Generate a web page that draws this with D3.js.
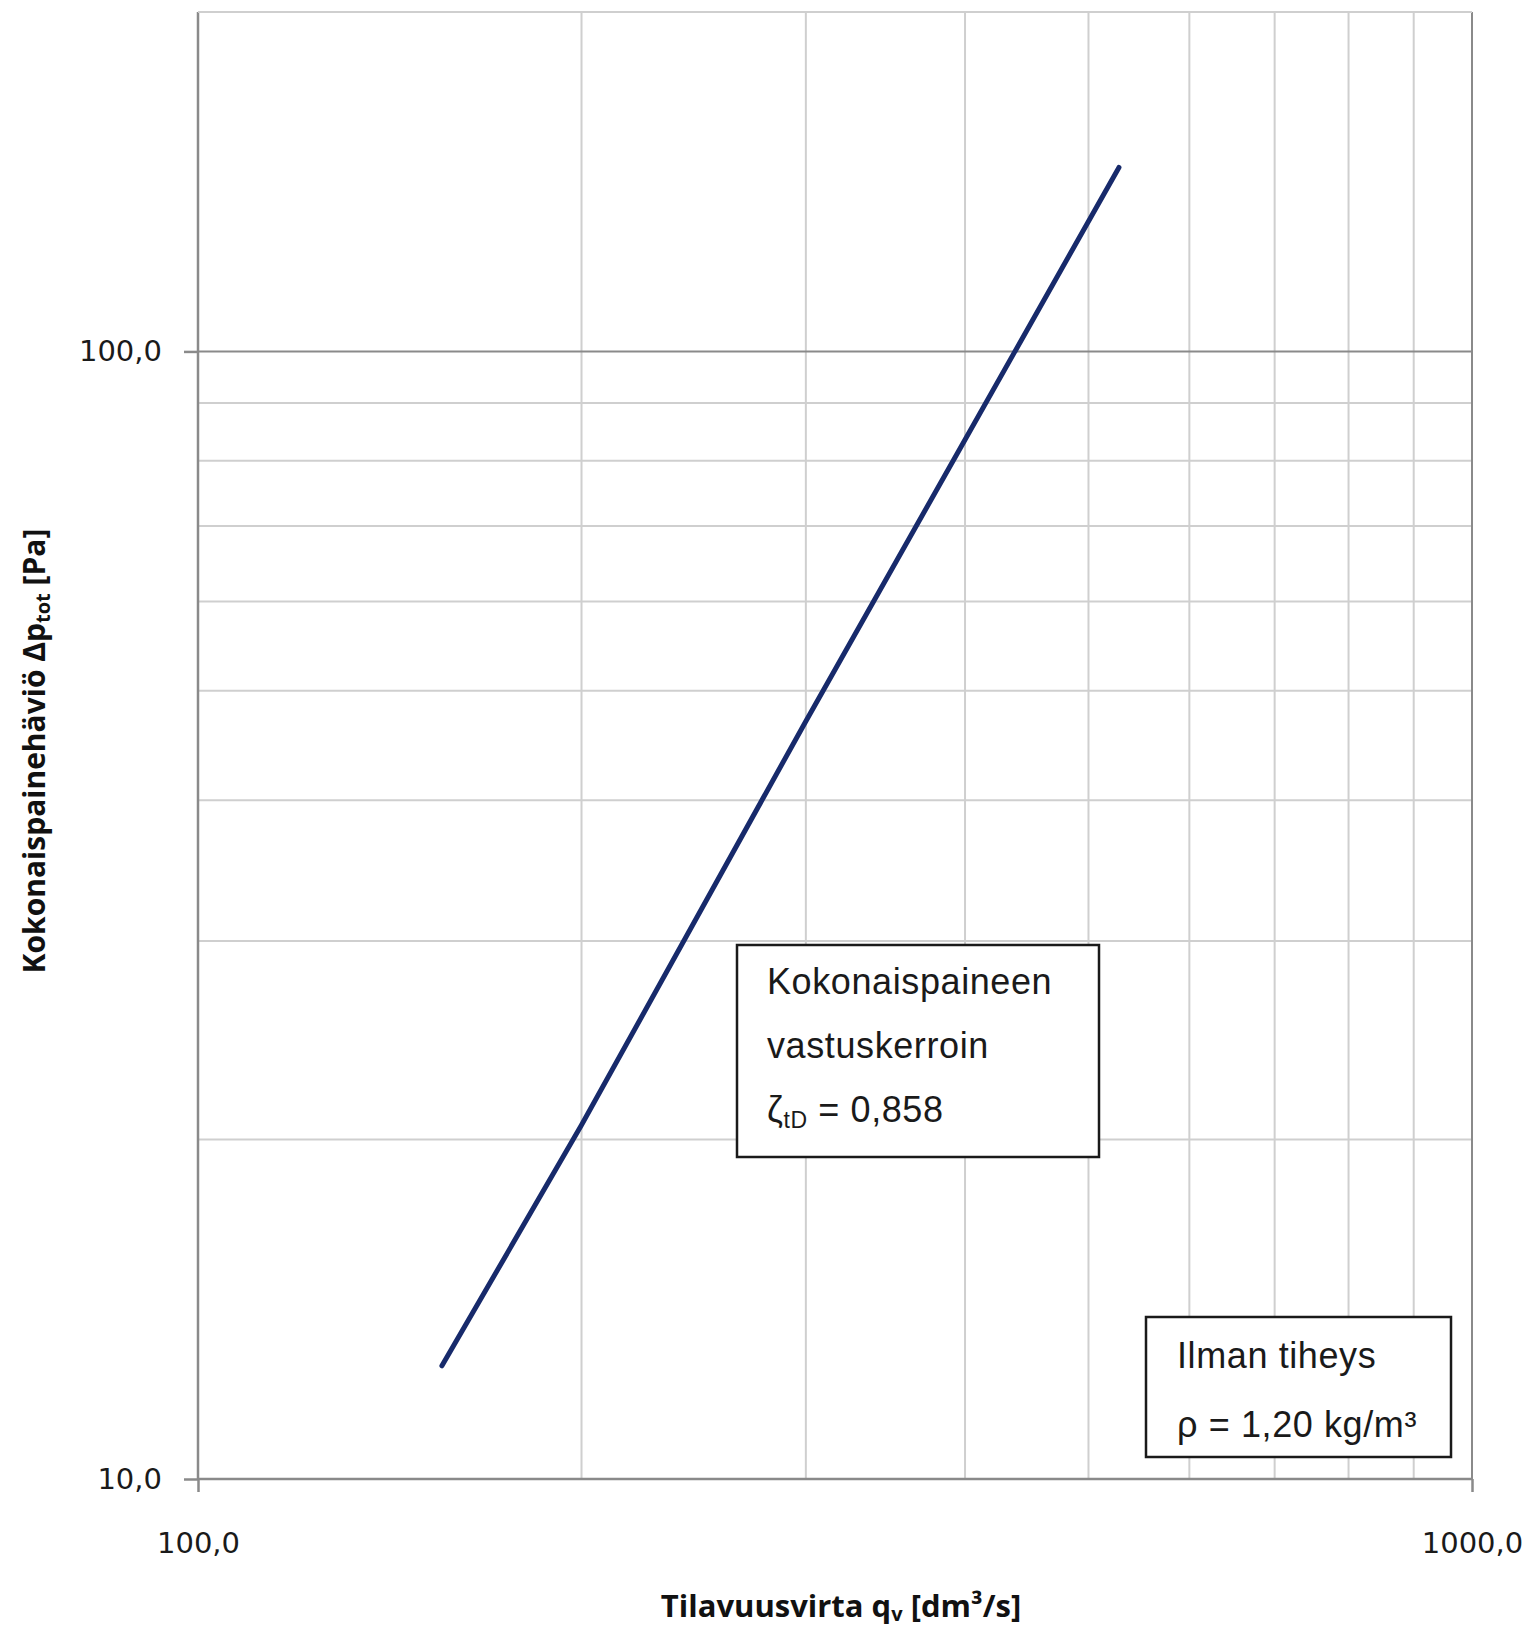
<!DOCTYPE html>
<html>
<head>
<meta charset="utf-8">
<script src="https://cdn.jsdelivr.net/npm/d3@7"></script>
<style>
  html, body { margin: 0; padding: 0; background: #fff; }
  svg { display: block; }
</style>
</head>
<body>
<svg id="chart" width="1539" height="1636"></svg>
<script>
// ---- data ----
const flowValues = [155.4, 200, 300, 400, 528.3];        // q_v [dm³/s]
const pressureValues = [12.6, 20.6, 47.0, 83.5, 145.6];  // Δp_tot [Pa]
const xTickValues = [100, 1000];
const xTickLabels = ["100,0", "1000,0"];
const yTickValues = [10, 100];
const yTickLabels = ["10,0", "100,0"];
const xGridValues = [200, 300, 400, 500, 600, 700, 800, 900];
const yGridValues = [20, 30, 40, 50, 60, 70, 80, 90, 100, 200];
const box1Lines = ["Kokonaispaineen", "vastuskerroin"];
const box2Lines = ["Ilman tiheys", "ρ = 1,20 kg/m³"];

// ---- layout ----
const plotLeft = 198, plotRight = 1472, plotTop = 12, plotBottom = 1479;
const svg = d3.select("#chart");

const x = d3.scaleLog().domain([100, 1000]).range([plotLeft, plotRight]);
const y = d3.scaleLog().domain([10, 200]).range([plotBottom, plotTop]);

const gridColor = "#cfcfcf";
const axisColor = "#8a8a8a";

// gridlines
svg.append("g").selectAll("line").data(xGridValues).join("line")
  .attr("x1", d => x(d)).attr("x2", d => x(d))
  .attr("y1", plotTop).attr("y2", plotBottom)
  .attr("stroke", gridColor).attr("stroke-width", 2);

svg.append("g").selectAll("line").data(yGridValues).join("line")
  .attr("x1", plotLeft).attr("x2", plotRight)
  .attr("y1", d => y(d)).attr("y2", d => y(d))
  .attr("stroke", d => d === 100 ? axisColor : gridColor).attr("stroke-width", 2);

// right border
svg.append("line").attr("x1", plotRight).attr("x2", plotRight).attr("y1", plotTop).attr("y2", plotBottom)
  .attr("stroke", axisColor).attr("stroke-width", 2);

// axes
const xAxis = d3.axisBottom(x).tickValues(xTickValues)
  .tickFormat((d, i) => xTickLabels[i]).tickSize(13).tickPadding(40);
const gx = svg.append("g").attr("transform", `translate(0,${plotBottom})`).call(xAxis);
const yAxis = d3.axisLeft(y).tickValues(yTickValues)
  .tickFormat((d, i) => yTickLabels[i]).tickSize(14).tickPadding(22);
const gy = svg.append("g").attr("transform", `translate(${plotLeft},0)`).call(yAxis);

[gx, gy].forEach(g => {
  g.select(".domain").attr("stroke", axisColor).attr("stroke-width", 2.5);
  g.selectAll(".tick line").attr("stroke", axisColor).attr("stroke-width", 2.5);
  g.selectAll(".tick text")
    .attr("font-family", "'DejaVu Sans', Verdana, sans-serif")
    .attr("font-size", 29).attr("fill", "#1a1a1a");
});
gy.select(".domain").attr("d", `M0,${plotTop}V${plotBottom}`);
gx.select(".domain").attr("d", `M${plotLeft},0H${plotRight}`);

// top border
svg.append("line").attr("x1", plotLeft).attr("x2", plotRight).attr("y1", plotTop).attr("y2", plotTop)
  .attr("stroke", gridColor).attr("stroke-width", 2);

// data line
const line = d3.line().x((d, i) => x(flowValues[i])).y(d => y(d));
svg.append("path").datum(pressureValues)
  .attr("d", line)
  .attr("fill", "none")
  .attr("stroke", "#172a6b")
  .attr("stroke-width", 5)
  .attr("stroke-linecap", "round");

// axis titles
const titleFont = "'Open Sans', Lato, sans-serif";
const xt = svg.append("text")
  .attr("x", 841).attr("y", 1617)
  .attr("text-anchor", "middle")
  .attr("font-family", titleFont).attr("font-weight", "bold")
  .attr("font-size", 31).attr("fill", "#111");
xt.append("tspan").text("Tilavuusvirta q");
xt.append("tspan").text("v").attr("font-size", 20).attr("dy", 4);
xt.append("tspan").text(" [dm³/s]").attr("dy", -4);

const yt = svg.append("text")
  .attr("transform", "translate(45,751) rotate(-90)")
  .attr("text-anchor", "middle")
  .attr("font-family", titleFont).attr("font-weight", "bold")
  .attr("font-size", 30).attr("fill", "#111");
yt.append("tspan").text("Kokonaispainehäviö Δp");
yt.append("tspan").text("tot").attr("font-size", 20).attr("dy", 5);
yt.append("tspan").text(" [Pa]").attr("dy", -5);

// annotation boxes
const boxFont = "'Liberation Sans', Arial, sans-serif";
svg.append("rect").attr("x", 737).attr("y", 945).attr("width", 362).attr("height", 212)
  .attr("fill", "#fff").attr("stroke", "#1a1a1a").attr("stroke-width", 2.5);
box1Lines.forEach((t, i) => {
  svg.append("text").attr("x", 767).attr("y", 994 + i * 64)
    .attr("font-family", boxFont).attr("font-size", 36).attr("letter-spacing", 0.6)
    .attr("fill", "#1a1a1a").text(t);
});
const z = svg.append("text").attr("x", 767).attr("y", 1122)
  .attr("font-family", boxFont).attr("font-size", 36).attr("letter-spacing", 0.6).attr("fill", "#1a1a1a");
z.append("tspan").text("ζ");
z.append("tspan").text("tD").attr("font-size", 23).attr("dy", 6);
z.append("tspan").text(" = 0,858").attr("dy", -6);

svg.append("rect").attr("x", 1146).attr("y", 1317).attr("width", 305).attr("height", 140)
  .attr("fill", "#fff").attr("stroke", "#1a1a1a").attr("stroke-width", 2.5);
box2Lines.forEach((t, i) => {
  svg.append("text").attr("x", 1177).attr("y", 1368 + i * 69)
    .attr("font-family", boxFont).attr("font-size", 36).attr("letter-spacing", 0.6)
    .attr("fill", "#1a1a1a").text(t);
});
</script>
</body>
</html>
